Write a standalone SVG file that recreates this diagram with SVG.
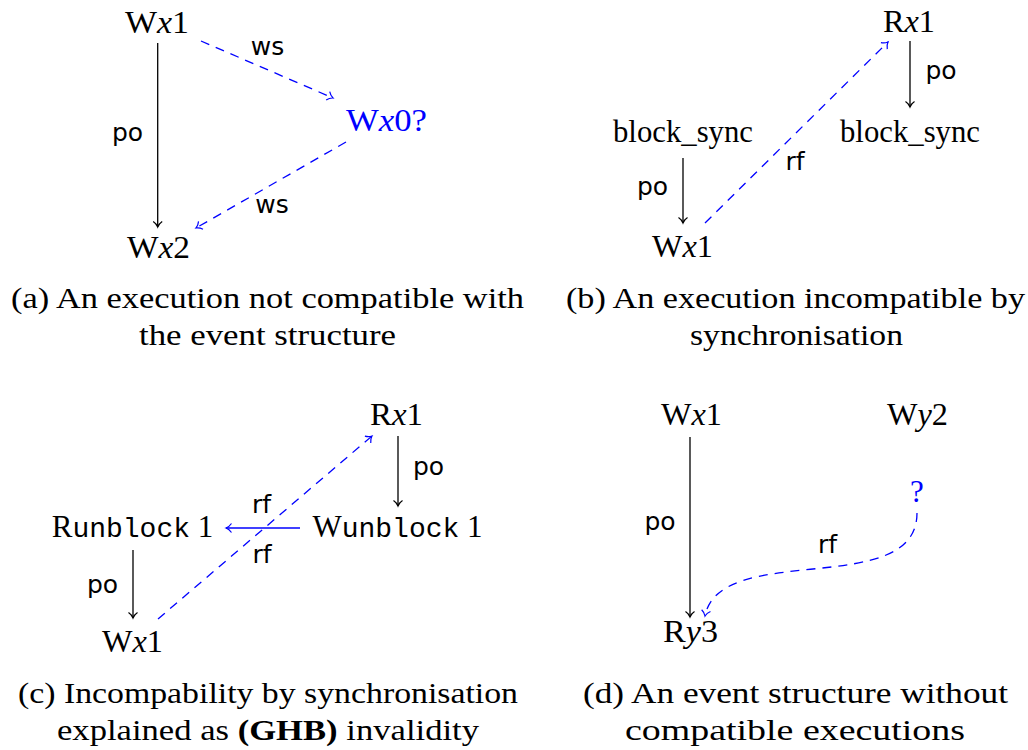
<svg xmlns="http://www.w3.org/2000/svg" width="1028" height="750" viewBox="0 0 1028 750">
  <style>
    .node { font-family: 'Liberation Serif', 'Tinos', 'Times New Roman', 'Nimbus Roman', 'DejaVu Serif', serif; font-size: 31px; fill: #000; text-anchor: middle; }
    .blue { fill: #0000ff; }
    .it { font-style: italic; }
    .tt { font-family: 'Liberation Mono', 'Cousine', 'Courier New', 'DejaVu Sans Mono', monospace; font-size: 28px; }
    .lbl { font-family: 'DejaVu Sans', sans-serif; font-size: 25px; fill: #000; text-anchor: middle; }
    .cap { font-family: 'Liberation Serif', 'Tinos', 'Times New Roman', 'Nimbus Roman', 'DejaVu Serif', serif; font-size: 30px; fill: #000; }
    .bf { font-weight: bold; }
    .edge { fill: none; stroke-width: 1.3; }
    .po { stroke: #000; marker-end: url(#tipK); }
    .sync { stroke: #0000ff; stroke-dasharray: 9 7; marker-end: url(#tipB); }
    .solid-b { stroke: #0000ff; marker-end: url(#tipB); }
  </style>
  <defs>
    <marker id="tipK" viewBox="-7 -7 14 14" markerWidth="14" markerHeight="14" markerUnits="userSpaceOnUse" refX="0" refY="0" orient="auto">
      <path d="M-5.5,-4.5 C-3.8,-2 -1.6,-0.6 0,0 C-1.6,0.6 -3.8,2 -5.5,4.5" fill="none" stroke="#000" stroke-width="1.2" stroke-dasharray="none"/>
    </marker>
    <marker id="tipB" viewBox="-7 -7 14 14" markerWidth="14" markerHeight="14" markerUnits="userSpaceOnUse" refX="0" refY="0" orient="auto">
      <path d="M-5.5,-4.5 C-3.8,-2 -1.6,-0.6 0,0 C-1.6,0.6 -3.8,2 -5.5,4.5" fill="none" stroke="#0000ff" stroke-width="1.2" stroke-dasharray="none"/>
    </marker>
  </defs>

  <!-- (a) -->
  <g id="a-wx1"><text class="node" x="157" y="33" textLength="64" lengthAdjust="spacingAndGlyphs">W<tspan class="it">x</tspan>1</text></g>
  <g id="a-wx2"><text class="node" x="158.5" y="258" textLength="63" lengthAdjust="spacingAndGlyphs">W<tspan class="it">x</tspan>2</text></g>
  <g id="a-wx0"><text class="node blue" x="386.5" y="131" textLength="81" lengthAdjust="spacingAndGlyphs">W<tspan class="it">x</tspan>0?</text></g>

  <!-- (b) -->
  <g id="b-rx1"><text class="node" x="909" y="32" textLength="52" lengthAdjust="spacingAndGlyphs">R<tspan class="it">x</tspan>1</text></g>
  <g id="b-sync-r"><text class="node" x="910" y="142" textLength="140" lengthAdjust="spacingAndGlyphs">block_sync</text></g>
  <g id="b-sync-l"><text class="node" x="683" y="142" textLength="140" lengthAdjust="spacingAndGlyphs">block_sync</text></g>
  <g id="b-wx1"><text class="node" x="682.5" y="257" textLength="61" lengthAdjust="spacingAndGlyphs">W<tspan class="it">x</tspan>1</text></g>

  <!-- (c) -->
  <g id="c-rx1"><text class="node" x="396.5" y="425" textLength="53" lengthAdjust="spacingAndGlyphs">R<tspan class="it">x</tspan>1</text></g>
  <g id="c-runblock"><text class="node" x="132.5" y="537">R<tspan class="tt">unblock</tspan> 1</text></g>
  <g id="c-wunblock"><text class="node" x="397.5" y="537">W<tspan class="tt">unblock</tspan> 1</text></g>
  <g id="c-wx1"><text class="node" x="132.5" y="652" textLength="61" lengthAdjust="spacingAndGlyphs">W<tspan class="it">x</tspan>1</text></g>

  <!-- (d) -->
  <g id="d-wx1"><text class="node" x="691.5" y="425" textLength="61" lengthAdjust="spacingAndGlyphs">W<tspan class="it">x</tspan>1</text></g>
  <g id="d-wy2"><text class="node" x="917.5" y="425" textLength="61" lengthAdjust="spacingAndGlyphs">W<tspan class="it">y</tspan>2</text></g>
  <g id="d-ry3"><text class="node" x="690.5" y="642" textLength="55" lengthAdjust="spacingAndGlyphs">R<tspan class="it">y</tspan>3</text></g>
  <g id="d-unknown"><text class="node blue" x="917" y="502">?</text></g>

  <g id="connectors">
    <!-- (a) -->
    <line class="edge po" x1="157.7" y1="43" x2="157.7" y2="227"/>
    <line class="edge sync" x1="201" y1="41" x2="333" y2="98"/>
    <line class="edge sync" x1="346" y1="142" x2="196" y2="228"/>
    <!-- (b) -->
    <line class="edge po" x1="910" y1="41" x2="910" y2="107"/>
    <line class="edge po" x1="683" y1="158" x2="683" y2="223"/>
    <line class="edge sync" x1="705" y1="223" x2="888" y2="42"/>
    <!-- (c) -->
    <line class="edge po" x1="398" y1="436" x2="398" y2="506"/>
    <line class="edge solid-b" x1="300" y1="528" x2="226" y2="528"/>
    <line class="edge sync" x1="158" y1="619" x2="372" y2="436"/>
    <line class="edge po" x1="133" y1="550" x2="133" y2="618"/>
    <!-- (d) -->
    <line class="edge po" x1="690" y1="437" x2="690" y2="617"/>
    <path class="edge sync" d="M917,513 C917,600 720,540 705,616"/>

    <!-- edge labels -->
    <text class="lbl" x="127.5" y="141">po</text>
    <text class="lbl" x="267.5" y="55">ws</text>
    <text class="lbl" x="272" y="213">ws</text>
    <text class="lbl" x="941" y="79">po</text>
    <text class="lbl" x="652.5" y="195">po</text>
    <text class="lbl" x="795" y="170">rf</text>
    <text class="lbl" x="428.5" y="475">po</text>
    <text class="lbl" x="261.5" y="513">rf</text>
    <text class="lbl" x="262" y="563">rf</text>
    <text class="lbl" x="102.5" y="593">po</text>
    <text class="lbl" x="660" y="530">po</text>
    <text class="lbl" x="827.5" y="553">rf</text>
  </g>

  <!-- captions -->
  <g id="captions">
    <text class="cap" x="11" y="308" textLength="513" lengthAdjust="spacingAndGlyphs">(a) An execution not compatible with</text>
    <text class="cap" x="139" y="345" textLength="257" lengthAdjust="spacingAndGlyphs">the event structure</text>
    <text class="cap" x="566" y="308" textLength="459" lengthAdjust="spacingAndGlyphs">(b) An execution incompatible by</text>
    <text class="cap" x="690" y="345" textLength="213" lengthAdjust="spacingAndGlyphs">synchronisation</text>
    <text class="cap" x="18" y="703" textLength="500" lengthAdjust="spacingAndGlyphs">(c) Incompability by synchronisation</text>
    <text class="cap" x="57" y="740" textLength="422" lengthAdjust="spacingAndGlyphs">explained as <tspan class="bf">(GHB)</tspan> invalidity</text>
    <text class="cap" x="583" y="703" textLength="425" lengthAdjust="spacingAndGlyphs">(d) An event structure without</text>
    <text class="cap" x="625" y="740" textLength="340" lengthAdjust="spacingAndGlyphs">compatible executions</text>
  </g>
</svg>
